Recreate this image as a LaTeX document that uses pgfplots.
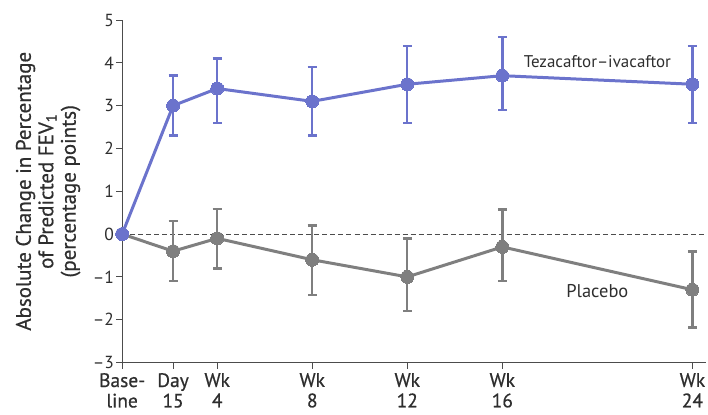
\documentclass[border=0pt]{standalone}
\usepackage{fontspec}
\setmainfont{PT Sans}
\newfontfamily\semib[FakeBold=0.6]{PT Sans}
\usepackage{pgfplots}
\pgfplotsset{compat=1.18}
\definecolor{tezblue}{HTML}{6B73CC}
\definecolor{plgray}{HTML}{7F7F7F}
\definecolor{txt}{HTML}{2E2E2E}
\begin{document}
\begin{tikzpicture}[x=1bp,y=1bp]
\begin{axis}[
  scale only axis,
  width=583bp, height=342bp,
  xmin=0, xmax=172, ymin=-3, ymax=5,
  axis x line=bottom, axis y line=left,
  axis line style={-, draw=black!70, line width=1pt},
  every tick/.style={draw=black!70, line width=1pt},
  tick align=outside, major tick length=6bp,
  xtick={0,15,28,56,84,112,168},
  xticklabels={Base-\\line, Day\\15, Wk\\4, Wk\\8, Wk\\12, Wk\\16, Wk\\24},
  xticklabel style={align=center, font=\semib\fontsize{19.5}{20.5}\selectfont, text=txt, inner sep=2bp, yshift=-2.5bp},
  ytick={-3,-2,-1,0,1,2,3,4,5},
  yticklabels={\textendash3,\textendash2,\textendash1,0,1,2,3,4,5},
  yticklabel style={font=\fontsize{17.5}{19}\selectfont, text=txt, inner sep=2bp},
  ylabel={Absolute Change in Percentage\\of Predicted FEV\textsubscript{1}\\(percentage points)},
  ylabel style={at={(axis description cs:0,0.5)}, anchor=center, yshift=74bp,
    align=center, font=\semib\fontsize{21}{22.5}\selectfont, text=txt},
  clip=false,
]
\coordinate (bbA) at (axis cs:0,-3);
\coordinate (bbB) at (axis cs:172,5);
\addplot[draw=black!70, dashed, dash pattern=on 5bp off 3bp, line width=1pt, forget plot] coordinates {(0,0) (172,0)};
\addplot[plgray, line width=3pt, mark=*, mark size=6.5bp,
  mark options={line width=0pt, fill=plgray},
  error bars/.cd, y dir=both, y explicit,
  error bar style={line width=2.4pt, plgray},
  error mark options={rotate=90, mark size=4.5bp, line width=2.4pt, plgray}]
  coordinates {
  (0,0) +- (0,0)
  (15,-0.4) += (0,0.7) -= (0,0.7)
  (28,-0.1) += (0,0.68) -= (0,0.7)
  (56,-0.6) += (0,0.8) -= (0,0.82)
  (84,-1.0) += (0,0.9) -= (0,0.8)
  (112,-0.3) += (0,0.87) -= (0,0.8)
  (168,-1.3) += (0,0.89) -= (0,0.88)
  };
\addplot[tezblue, line width=3pt, mark=*, mark size=6.5bp,
  mark options={line width=0pt, fill=tezblue},
  error bars/.cd, y dir=both, y explicit,
  error bar style={line width=2.4pt, tezblue},
  error mark options={rotate=90, mark size=4.5bp, line width=2.4pt, tezblue}]
  coordinates {
  (0,0) +- (0,0)
  (15,3.0) += (0,0.7) -= (0,0.7)
  (28,3.4) += (0,0.7) -= (0,0.8)
  (56,3.1) += (0,0.8) -= (0,0.8)
  (84,3.5) += (0,0.9) -= (0,0.9)
  (112,3.7) += (0,0.9) -= (0,0.8)
  (168,3.5) += (0,0.9) -= (0,0.9)
  };
\node[font=\fontsize{17}{19}\selectfont, text=txt] at (axis cs:140,4.04) {Tezacaftor\textendash ivacaftor};
\node[font=\fontsize{18.5}{19}\selectfont, text=txt] at (axis cs:140,-1.32) {Placebo};
\end{axis}
\path[use as bounding box] ([shift={(-122bp,-52bp)}]bbA) rectangle ([shift={(2bp,20bp)}]bbB);
\end{tikzpicture}
\end{document}
